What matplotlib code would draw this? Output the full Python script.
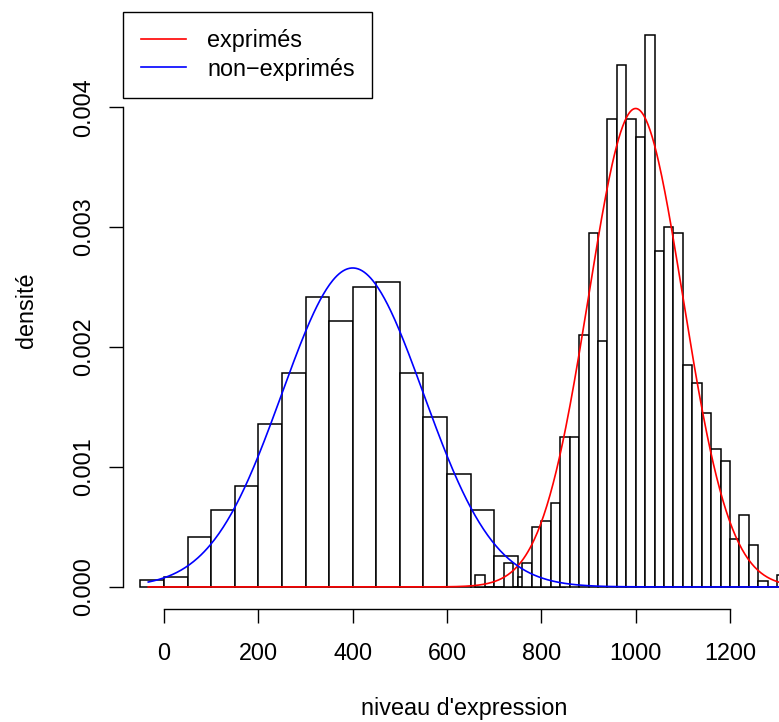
import numpy as np
import matplotlib
matplotlib.use('Agg')
import matplotlib.pyplot as plt

# histogramme des non-exprimés (classes de 50)
non_expr_breaks = list(range(-50, 851, 50))
non_expr_density = [0.00006, 0.00008, 0.00042, 0.00064, 0.00084, 0.00136,
                    0.00178, 0.00242, 0.00222, 0.00250, 0.00254, 0.00178,
                    0.00142, 0.00094, 0.00064, 0.00026, 0.00008, 0.00002]

# histogramme des exprimés (classes de 20)
expr_breaks = list(range(660, 1321, 20))
expr_density = [0.00010, 0.0, 0.0, 0.00020, 0.0, 0.00020, 0.00050, 0.00055,
                0.00070, 0.00125, 0.00125, 0.00210, 0.00295, 0.00205, 0.00390,
                0.00435, 0.00390, 0.00375, 0.00460, 0.00280, 0.00300, 0.00295,
                0.00185, 0.00170, 0.00145, 0.00115, 0.00105, 0.00040, 0.00060,
                0.00035, 0.00005, 0.0, 0.00010]

# courbes normales ajustées
curve_labels = ['exprimés', 'non\u2212exprimés']
curve_colors = ['#ff0000', '#0000ff']
curve_means = [1000, 400]
curve_sds = [100, 150]
curve_from, curve_to = -33.4, 1305.6

x_ticks = [0, 200, 400, 600, 800, 1000, 1200]
y_ticks = [0.000, 0.001, 0.002, 0.003, 0.004]

plt.rcParams['font.family'] = ['Liberation Sans', 'DejaVu Sans']
fs = 16.8

fig = plt.figure(figsize=(7.79, 7.22), dpi=100)
ax = fig.add_axes([123 / 779, 113 / 722, 682 / 779, 597 / 722])


def draw_hist(breaks, dens):
    left = np.array(breaks[:-1])
    width = np.diff(breaks)
    ax.bar(left, dens, width=width, align='edge', facecolor='white',
           edgecolor='black', linewidth=1.1, zorder=2)


draw_hist(non_expr_breaks, non_expr_density)
draw_hist(expr_breaks, expr_density)

xs = np.linspace(curve_from, curve_to, 600)
for lab, col, m, s in zip(curve_labels, curve_colors, curve_means, curve_sds):
    ys = np.exp(-0.5 * ((xs - m) / s) ** 2) / (s * np.sqrt(2 * np.pi))
    ax.plot(xs, ys, color=col, linewidth=1.2, label=lab, zorder=3)

ax.set_xlim(-87, 1359)
ax.set_ylim(-0.000184, 0.004794)

for sp in ['top', 'right']:
    ax.spines[sp].set_visible(False)
ax.spines['left'].set_bounds(0, 0.004)
ax.spines['bottom'].set_bounds(0, 1200)
for sp in ['left', 'bottom']:
    ax.spines[sp].set_linewidth(1.0)

ax.set_xticks(x_ticks)
ax.set_xticklabels([str(t) for t in x_ticks])
ax.set_yticks(y_ticks)
ax.set_yticklabels(['%.3f' % t for t in y_ticks], rotation=90, va='center')
ax.tick_params(axis='both', direction='out', length=10, width=1.0,
               labelsize=fs, color='black')
ax.tick_params(axis='x', pad=14)
ax.tick_params(axis='y', pad=10)

ax.set_xlabel("niveau d'expression", fontsize=fs, labelpad=23)
ax.set_ylabel('densité', fontsize=fs)
ax.yaxis.set_label_coords(-85 / 682, 0.5)

leg = ax.legend(loc='upper left', bbox_to_anchor=(0, 1), borderaxespad=0,
                fontsize=fs, fancybox=False, framealpha=1, edgecolor='black',
                handlelength=1.95, handletextpad=0.9, borderpad=0.75,
                labelspacing=0.22)
leg.get_frame().set_linewidth(1.0)

fig.savefig('out.png', dpi=100)
